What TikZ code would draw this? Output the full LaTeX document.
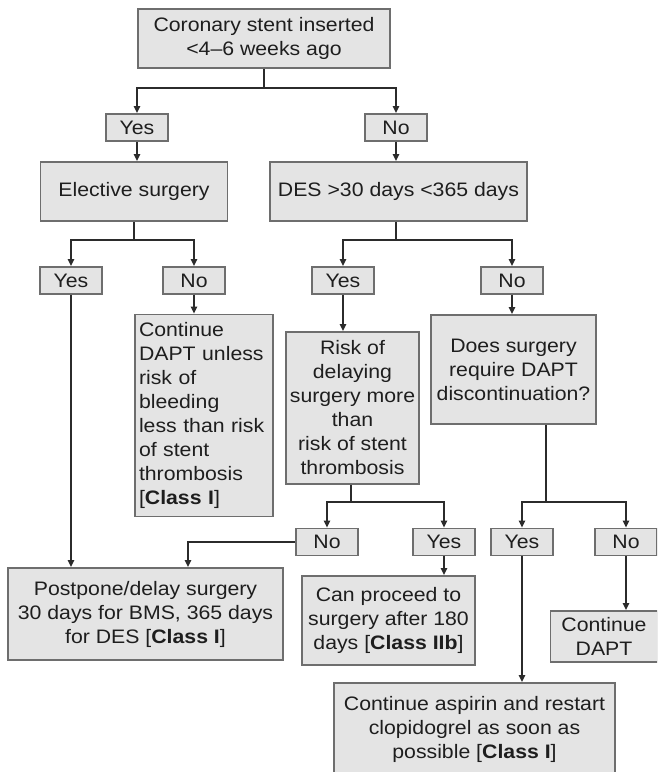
\documentclass[tikz,border=0pt]{standalone}
\usepackage{fontspec}
\setmainfont{Liberation Sans}[FakeStretch=1.09]
\usetikzlibrary{arrows.meta}
\definecolor{boxfill}{HTML}{E4E4E4}
\definecolor{boxline}{HTML}{6E6E6E}
\definecolor{connc}{HTML}{2B2B2B}
\definecolor{txt}{HTML}{1E1E1E}
\begin{document}
\begin{tikzpicture}[x=1pt,y=-1pt,
  box/.style={draw=boxline, fill=boxfill, line width=1.6pt, inner sep=0pt,
    align=center, text=txt, font=\fontsize{19.5}{24}\selectfont},
  yn/.style={box, minimum width=62pt, minimum height=27pt},
  conn/.style={draw=connc, line width=1.7pt},
  arr/.style={conn, -{Triangle[length=7pt,width=6pt]}}]
\clip (0,0) rectangle (657,772);
\fill[white] (0,0) rectangle (657,772);

% boxes
\node[box, minimum width=252pt, minimum height=59pt] (top) at (264,38.5)
  {Coronary stent inserted\\<4–6 weeks ago};
\node[yn] (yes1) at (137,127.5) {Yes};
\node[yn] (no1) at (396,127.5) {No};
\node[box, minimum width=187pt, minimum height=59pt] (elective) at (134,191.5)
  {Elective surgery};
\node[box, minimum width=257pt, minimum height=59pt] (des) at (398.5,191.5)
  {DES >30 days <365 days};
\node[yn] (yes2) at (71,280.5) {Yes};
\node[yn] (no2) at (194,280.5) {No};
\node[yn] (yes3) at (343,280.5) {Yes};
\node[yn] (no3) at (512,280.5) {No};
\node[box, minimum width=138pt, minimum height=202pt, text width=130pt,
  inner xsep=4pt, align=left] (contd) at (204,415.5)
  {Continue\\DAPT unless\\risk of\\bleeding\\less than risk\\of stent\\thrombosis\\{[}\textbf{Class I}{]}};
\node[box, minimum width=133pt, minimum height=152pt] (risk) at (352.5,408)
  {Risk of\\delaying\\surgery more\\than\\risk of stent\\thrombosis};
\node[box, minimum width=165pt, minimum height=109pt] (does) at (513.5,369.5)
  {Does surgery\\require DAPT\\discontinuation?};
\node[yn] (no4) at (327,542) {No};
\node[yn] (yes4) at (444,542) {Yes};
\node[yn] (yes5) at (522,542) {Yes};
\node[yn] (no5) at (626,542) {No};
\node[box, minimum width=275pt, minimum height=92pt] (postpone) at (145.5,614)
  {Postpone/delay surgery\\30 days for BMS, 365 days\\for DES {[}\textbf{Class I}{]}};
\node[box, minimum width=173pt, minimum height=89pt] (proceed) at (388.5,620.5)
  {Can proceed to\\surgery after 180\\days {[}\textbf{Class IIb}{]}};
\node[box, minimum width=107pt, minimum height=51pt] (contdapt) at (604,636.5)
  {Continue\\DAPT};
\node[box, minimum width=281pt, minimum height=92pt] (aspirin) at (474.5,729)
  {Continue aspirin and restart\\clopidogrel as soon as\\possible {[}\textbf{Class I}{]}};

% junctions
\coordinate (j1) at (264,88);
\coordinate (j2) at (134,240);
\coordinate (j3) at (396,240);
\coordinate (j4) at (351,502);
\coordinate (j5) at (546,502);
\coordinate (k1) at (188,542);

% connectors
\draw[conn] (top.south) -- (j1);
\draw[arr] (j1) -| (yes1.north);
\draw[arr] (j1) -| (no1.north);
\draw[arr] (yes1.south) -- (yes1.south |- elective.north);
\draw[arr] (no1.south) -- (no1.south |- des.north);

\draw[conn] (elective.south) -- (j2);
\draw[arr] (j2) -| (yes2.north);
\draw[arr] (j2) -| (no2.north);
\draw[conn] (des.south -| j3) -- (j3);
\draw[arr] (j3) -| (yes3.north);
\draw[arr] (j3) -| (no3.north);

\draw[arr] (yes2.south) -- (yes2.south |- postpone.north);
\draw[arr] (no2.south) -- (no2.south |- contd.north);
\draw[arr] (yes3.south) -- (yes3.south |- risk.north);
\draw[arr] (no3.south) -- (no3.south |- does.north);

\draw[conn] (risk.south -| j4) -- (j4);
\draw[arr] (j4) -| (no4.north);
\draw[arr] (j4) -| (yes4.north);
\draw[conn] (does.south -| j5) -- (j5);
\draw[arr] (j5) -| (yes5.north);
\draw[arr] (j5) -| (no5.north);

\draw[arr] (no4.west) -- (k1) -- (k1 |- postpone.north);
\draw[arr] (yes4.south) -- (yes4.south |- proceed.north);
\draw[arr] (yes5.south) -- (yes5.south |- aspirin.north);
\draw[arr] (no5.south) -- (no5.south |- contdapt.north);
\end{tikzpicture}
\end{document}
